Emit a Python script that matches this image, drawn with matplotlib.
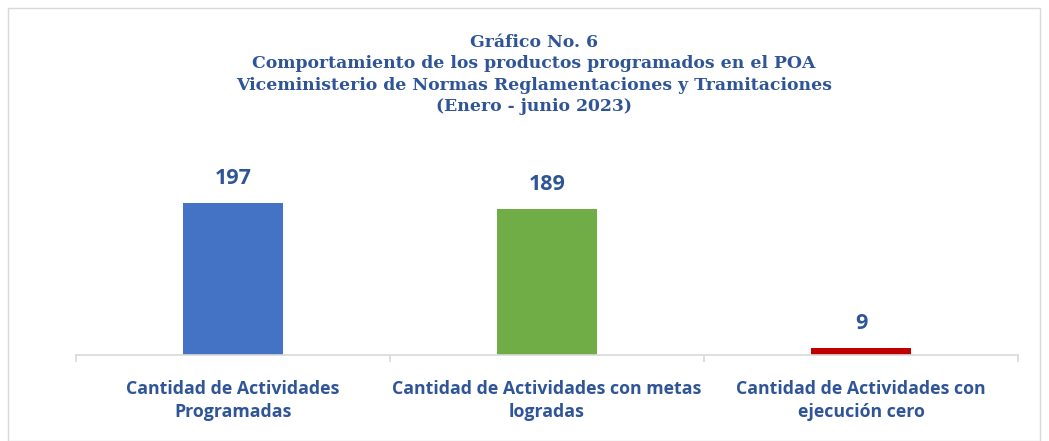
import matplotlib.pyplot as plt
from matplotlib.patches import Rectangle

# datos
categorias = ['Cantidad de Actividades\nProgramadas',
              'Cantidad de Actividades con metas\nlogradas',
              'Cantidad de Actividades con\nejecución cero']
valores = [197, 189, 9]
colores = ['#4472C4', '#70AD47', '#C00000']

titulo = ('Gráfico No. 6\n'
          'Comportamiento de los productos programados en el POA\n'
          'Viceministerio de Normas Reglamentaciones y Tramitaciones\n'
          '(Enero - junio 2023)')

azul = '#2F5597'
W, H = 1049, 441
fig = plt.figure(figsize=(W / 100, H / 100), dpi=100)

# borde exterior
fig.patches.append(Rectangle((8 / W, 0), (1040 - 8) / W, (H - 8) / H,
                             transform=fig.transFigure, fill=False,
                             edgecolor='#D9D9D9', linewidth=1))

ax = fig.add_axes([76 / W, (H - 355) / H, (1018 - 76) / W, 193 / H])
x = list(range(len(valores)))
barras = ax.bar(x, valores, width=0.32, color=colores)
ax.set_xlim(-0.5, len(valores) - 0.5)
ax.set_ylim(0, 250)

for xi, v in zip(x, valores):
    ax.annotate(str(v), xy=(xi, v), xytext=(0, 10), textcoords='offset points',
                ha='center', va='bottom', fontsize=15.5, fontweight='bold',
                color=azul, family='Open Sans')

for s in ['top', 'right', 'left']:
    ax.spines[s].set_visible(False)
ax.spines['bottom'].set_color('#D9D9D9')
ax.spines['bottom'].set_linewidth(1.2)
ax.set_yticks([])
ax.set_xticks([-0.5, 0.5, 1.5, 2.5])
ax.set_xticklabels([])
ax.tick_params(axis='x', length=5, color='#D9D9D9', width=1.2)
ax.set_xticks(x, minor=True)
ax.set_xticklabels(categorias, minor=True, fontsize=12.8, fontweight='bold',
                   color=azul, family='Open Sans', linespacing=1.35)
ax.tick_params(axis='x', which='minor', length=0, pad=18)

fig.text(534 / W, (H - 34) / H, titulo, ha='center', va='top', fontsize=12.4,
         fontweight='bold', color=azul, family='DejaVu Serif', linespacing=1.33)

fig.savefig('out.png', dpi=100)
